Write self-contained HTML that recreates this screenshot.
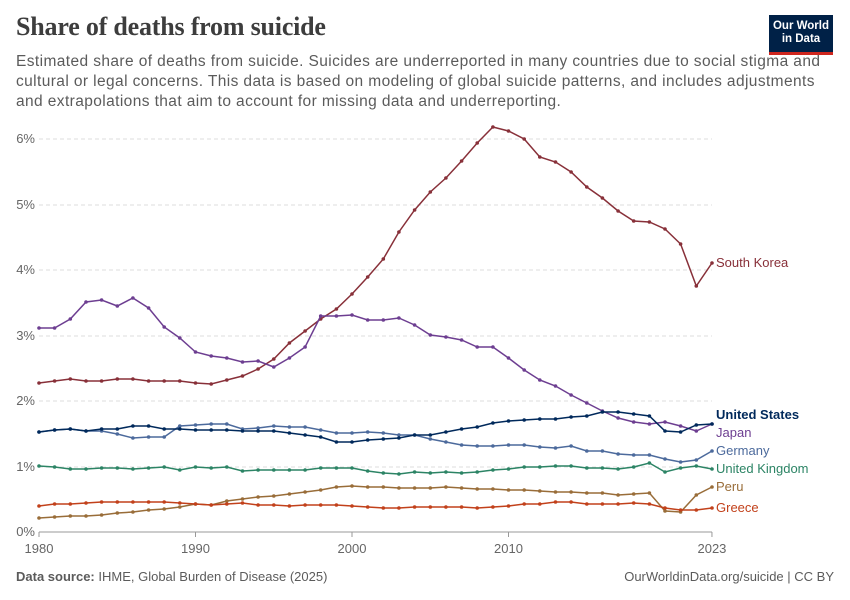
<!DOCTYPE html>
<html><head><meta charset="utf-8"><style>
body{margin:0;width:850px;height:600px;background:#fff;font-family:"Liberation Sans",sans-serif;overflow:hidden;position:relative}
h1{position:absolute;left:16px;top:12px;margin:0;font-family:"Liberation Serif",serif;font-weight:bold;font-size:26px;color:#3d3d3d;letter-spacing:-0.2px}
.sub{position:absolute;left:16px;top:52px;width:830px;font-size:15.5px;letter-spacing:0.4px;line-height:20px;color:#5b5b5b;white-space:nowrap}
.logo{position:absolute;left:769px;top:15px;width:64px;height:37px;background:#002147;color:#fff;font-size:11.5px;line-height:13px;text-align:center;font-weight:bold}
.logo div{padding-top:5px}
.logo:after{content:"";position:absolute;left:0;bottom:-3px;width:64px;height:3px;background:#ce261e}
.foot{position:absolute;top:569px;font-size:13px;color:#5b5b5b}
</style></head><body>
<h1>Share of deaths from suicide</h1>
<div class="sub">Estimated share of deaths from suicide. Suicides are underreported in many countries due to social stigma and<br>cultural or legal concerns. This data is based on modeling of global suicide patterns, and includes adjustments<br>and extrapolations that aim to account for missing data and underreporting.</div>
<div class="logo"><div>Our World<br>in Data</div></div>
<svg id="c" width="850" height="600" style="position:absolute;left:0;top:0"></svg>
<div class="foot" style="left:16px"><b>Data source:</b> IHME, Global Burden of Disease (2025)</div>
<div class="foot" style="right:16px">OurWorldinData.org/suicide | CC BY</div>
<script>
var s=document.getElementById('c'),h='';
var g=[[139,'6%'],[205,'5%'],[270,'4%'],[336,'3%'],[401,'2%'],[467,'1%']];
g.forEach(function(a){h+='<line x1="39" x2="712" y1="'+a[0]+'" y2="'+a[0]+'" stroke="#ddd" stroke-dasharray="4,3"/><text x="35" y="'+(a[0]+4)+'" text-anchor="end" font-size="13" fill="#666">'+a[1]+'</text>';});
h+='<text x="35" y="536" text-anchor="end" font-size="13" fill="#666">0%</text>';
h+='<line x1="39" x2="712" y1="532" y2="532" stroke="#999"/>';
[[1980,0],[1990,10],[2000,20],[2010,30],[2023,43]].forEach(function(a){var x=39+15.65*a[1];h+='<line x1="'+x+'" x2="'+x+'" y1="532" y2="537" stroke="#999"/><text x="'+x+'" y="553" text-anchor="middle" font-size="13" fill="#666">'+a[0]+'</text>';});
var D=[
['#883039',[383,381,379,381,381,379,379,381,381,381,383,384,380,376,369,359,343,331,319,309,294,277,259,232,210,192,178,161,143,127,131,139,157,162,172,187,198,211,221,222,229,244,286,263],'South Korea',267,''],
['#4c6a9c',[432,430,429,431,431,434,438,437,437,426,425,424,424,429,428,426,427,427,430,433,433,432,433,435,435,439,442,445,446,446,445,445,447,448,446,451,451,454,455,455,459,462,460,451],'Germany',455,''],
['#6d3e91',[328,328,319,302,300,306,298,308,327,338,352,356,358,362,361,367,358,347,316,316,315,320,320,318,325,335,337,340,347,347,358,370,380,386,395,403,411,418,422,424,422,426,431,424],'Japan',437,''],
['#2c8465',[466,467,469,469,468,468,469,468,467,470,467,468,467,471,470,470,470,470,468,468,468,471,473,474,472,473,472,473,472,470,469,467,467,466,466,468,468,469,467,463,472,468,466,469],'United Kingdom',473,''],
['#996d39',[518,517,516,516,515,513,512,510,509,507,504,505,501,499,497,496,494,492,490,487,486,487,487,488,488,488,487,488,489,489,490,490,491,492,492,493,493,495,494,493,511,512,495,487],'Peru',491,''],
['#c2411b',[506,504,504,503,502,502,502,502,502,503,504,505,504,503,505,505,506,505,505,505,506,507,508,508,507,507,507,507,508,507,506,504,504,502,502,504,504,504,503,504,508,510,510,508],'Greece',512,''],
['#00295b',[432,430,429,431,429,429,426,426,429,429,430,430,430,431,431,431,433,435,437,442,442,440,439,438,435,435,432,429,427,423,421,420,419,419,417,416,412,412,414,416,431,432,425,424],'United States',419,'bold']
];
D.forEach(function(d){var p=d[1].map(function(y,i){return (39+15.65*i).toFixed(1)+','+y;});
h+='<polyline points="'+p.join(' ')+'" fill="none" stroke="'+d[0]+'" stroke-width="1.5"/>';
p.forEach(function(q){var c=q.split(',');h+='<circle cx="'+c[0]+'" cy="'+c[1]+'" r="1.8" fill="'+d[0]+'"/>';});
h+='<text x="716" y="'+d[3]+'" font-size="13" fill="'+d[0]+'" font-weight="'+(d[4]||'normal')+'">'+d[2]+'</text>';});
s.innerHTML=h;
</script>
</body></html>
